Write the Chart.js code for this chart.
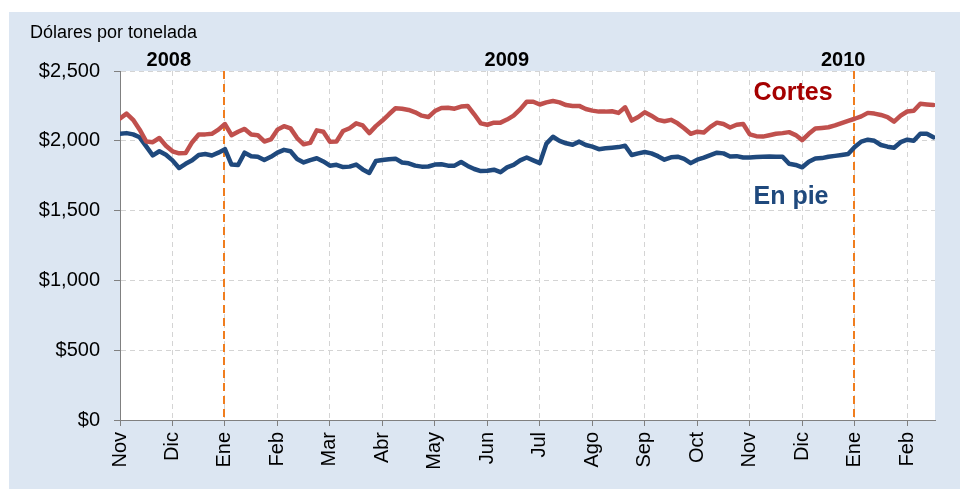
<!DOCTYPE html>
<html>
<head>
<meta charset="utf-8">
<script src="https://cdn.jsdelivr.net/npm/chart.js@4.4.1/dist/chart.umd.min.js"></script>
<style>
  html, body { margin: 0; padding: 0; background: #fff; }
  canvas { display: block; }
</style>
</head>
<body>
<canvas id="myChart" width="960" height="489"></canvas>
<script>
// meses del eje (uno por tick, Nov 2008 - Feb 2010)
const meses = ['Nov', 'Dic', 'Ene', 'Feb', 'Mar', 'Abr', 'May', 'Jun', 'Jul', 'Ago', 'Sep', 'Oct', 'Nov', 'Dic', 'Ene', 'Feb'];
const anios = ['2008', '2009', '2010'];
const posAnios = [0.93, 7.37, 13.78];
const lineasAnio = [2, 14];
const yTicks = [0, 500, 1000, 1500, 2000, 2500];
const puntosPorMes = 8;

// dolares por tonelada, una lectura cada 1/8 de mes
const cortes = [
    2160, 2195, 2150, 2080, 1995, 1990, 2020, 1965, 1925, 1910, 1912, 1990, 2045, 2046, 2050, 2080,
    2120, 2040, 2065, 2085, 2045, 2040, 1995, 2010, 2080, 2105, 2089, 2020, 1975, 1985, 2075, 2065,
    1994, 1995, 2070, 2090, 2125, 2110, 2055, 2105, 2145, 2190, 2233, 2230, 2221, 2204, 2180, 2170,
    2213, 2235, 2237, 2230, 2245, 2250, 2190, 2125, 2115, 2130, 2130, 2152, 2180, 2225, 2280, 2280,
    2260, 2275, 2285, 2275, 2256, 2250, 2250, 2228, 2216, 2209, 2209, 2212, 2200, 2240, 2145, 2170,
    2205, 2180, 2150, 2140, 2150, 2125, 2090, 2050, 2065, 2060, 2100, 2130, 2120, 2095, 2115, 2120,
    2046, 2033, 2030, 2040, 2050, 2055, 2062, 2041, 2005, 2050, 2088, 2092, 2097, 2110, 2127, 2143,
    2158, 2175, 2200, 2195, 2185, 2170, 2137, 2180, 2210, 2215, 2265, 2260, 2256
];
const enPie = [
    2050, 2055, 2046, 2025, 1960, 1895, 1925, 1900, 1860, 1805, 1835, 1860, 1898, 1905, 1895, 1915,
    1940, 1830, 1827, 1915, 1890, 1886, 1862, 1885, 1915, 1935, 1925, 1870, 1845, 1862, 1875, 1852,
    1822, 1828, 1812, 1815, 1830, 1795, 1770, 1855, 1862, 1868, 1872, 1845, 1839, 1822, 1815, 1816,
    1830, 1832, 1822, 1822, 1848, 1820, 1798, 1783, 1785, 1793, 1775, 1810, 1828, 1860, 1880, 1860,
    1840, 1980, 2029, 2000, 1982, 1972, 1994, 1970, 1958, 1940, 1946, 1950, 1955, 1965, 1898, 1910,
    1920, 1910, 1890, 1865, 1882, 1886, 1870, 1840, 1865, 1880, 1898, 1915, 1910, 1888, 1890, 1880,
    1880, 1884, 1886, 1888, 1886, 1886, 1835, 1827, 1810, 1850, 1873, 1876, 1886, 1892, 1898, 1905,
    1955, 1994, 2008, 2000, 1970, 1958, 1950, 1990, 2008, 2000, 2050, 2050, 2025
];

const fuente = "'Liberation Sans', Arial, sans-serif";

function aPuntos(serie) {
    return serie.map((v, i) => ({ x: i / puntosPorMes, y: v }));
}

const fondo = {
    id: 'fondo',
    beforeDraw(chart) {
        const { ctx, chartArea } = chart;
        ctx.save();
        ctx.fillStyle = '#ffffff';
        ctx.fillRect(0, 0, chart.width, chart.height);
        ctx.fillStyle = '#dce6f2';
        ctx.fillRect(9, 12, chart.width - 9, chart.height - 12);
        ctx.fillStyle = '#ffffff';
        ctx.fillRect(chartArea.left, chartArea.top, chartArea.right - chartArea.left, chartArea.bottom - chartArea.top);
        ctx.restore();
    }
};

const anotaciones = {
    id: 'anotaciones',
    beforeDatasetsDraw(chart) {
        const { ctx, chartArea, scales } = chart;
        ctx.save();
        ctx.strokeStyle = '#f07d1e';
        ctx.lineWidth = 2;
        ctx.setLineDash([8, 5]);
        lineasAnio.forEach(m => {
            const x = Math.round(scales.x.getPixelForValue(m)) - 1;
            ctx.beginPath();
            ctx.moveTo(x, chartArea.top);
            ctx.lineTo(x, chartArea.bottom);
            ctx.stroke();
        });
        ctx.restore();
    },
    afterDraw(chart) {
        const { ctx, scales } = chart;
        ctx.save();
        ctx.fillStyle = '#000';
        ctx.textBaseline = 'middle';
        ctx.textAlign = 'left';
        ctx.font = '18px ' + fuente;
        ctx.fillText('Dólares por tonelada', 30, 33);

        ctx.textAlign = 'center';
        ctx.font = 'bold 20px ' + fuente;
        anios.forEach((a, i) => {
            ctx.fillText(a, scales.x.getPixelForValue(posAnios[i]), 60);
        });

        ctx.font = 'bold 25px ' + fuente;
        ctx.fillStyle = '#a50000';
        ctx.fillText('Cortes', 793, 93);
        ctx.fillStyle = '#1f497d';
        ctx.fillText('En pie', 791, 197);
        ctx.restore();
    }
};

new Chart(document.getElementById('myChart'), {
    type: 'line',
    data: {
        datasets: [
            {
                label: 'Cortes',
                data: aPuntos(cortes),
                borderColor: '#c0504d',
                borderWidth: 4.5,
                borderJoinStyle: 'round',
                borderCapStyle: 'round',
                pointRadius: 0,
                tension: 0
            },
            {
                label: 'En pie',
                data: aPuntos(enPie),
                borderColor: '#1f497d',
                borderWidth: 4.5,
                borderJoinStyle: 'round',
                borderCapStyle: 'round',
                pointRadius: 0,
                tension: 0
            }
        ]
    },
    options: {
        responsive: false,
        animation: false,
        layout: { padding: { left: 9, top: 71, right: 25, bottom: 0 } },
        plugins: {
            legend: { display: false },
            tooltip: { enabled: false }
        },
        scales: {
            x: {
                type: 'linear',
                min: 0,
                max: 15.53,
                afterFit: s => { s.height = 69; },
                afterBuildTicks: s => { s.ticks = meses.map((m, i) => ({ value: i })); },
                ticks: {
                    callback: v => meses[v],
                    maxRotation: 90,
                    minRotation: 90,
                    padding: 6,
                    color: '#000',
                    font: { family: fuente, size: 20 }
                },
                grid: { color: '#d4d4d4', tickColor: '#808080', tickLength: 6, lineWidth: 1 },
                border: { color: '#808080', dash: [5, 4] }
            },
            y: {
                min: 0,
                max: 2500,
                afterFit: s => { s.width = 111; },
                afterBuildTicks: s => { s.ticks = yTicks.map(v => ({ value: v })); },
                ticks: {
                    callback: v => '$' + v.toLocaleString('en-US'),
                    padding: 14,
                    color: '#000',
                    font: { family: fuente, size: 20 }
                },
                grid: { color: '#d4d4d4', tickColor: '#808080', tickLength: 6, lineWidth: 1 },
                border: { color: '#808080', dash: [5, 4] }
            }
        }
    },
    plugins: [fondo, anotaciones]
});
</script>
</body>
</html>
